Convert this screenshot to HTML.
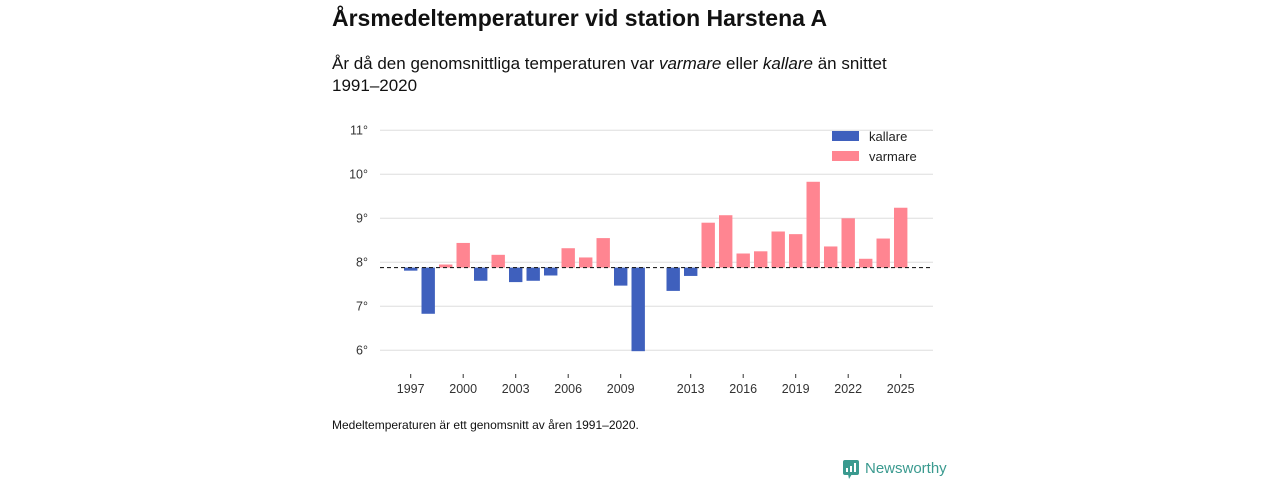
<!DOCTYPE html>
<html><head><meta charset="utf-8"><style>
body{margin:0;width:1280px;height:480px;background:#fff;font-family:"Liberation Sans","DejaVu Sans",sans-serif;overflow:hidden;position:relative;color:#111}
.t{position:absolute;left:332px;top:5px;font-size:23px;font-weight:bold}
.s{position:absolute;left:332px;top:53px;font-size:17px;line-height:22px;width:570px}
.f{position:absolute;left:332px;top:418px;font-size:12px}
svg{position:absolute;left:0;top:0}
</style></head><body>
<div class="t">Årsmedeltemperaturer vid station Harstena A</div>
<div class="s">År då den genomsnittliga temperaturen var <i>varmare</i> eller <i>kallare</i> än snittet 1991–2020</div>
<div class="f">Medeltemperaturen är ett genomsnitt av åren 1991–2020.</div>
<svg width="1280" height="480" id="c">
<g>
<rect x="843" y="460" width="16" height="15" rx="2" fill="#3a9a8f"/>
<polygon points="848,474 852,474 849,479" fill="#3a9a8f"/>
<rect x="846" y="468" width="2" height="4" fill="#fff"/><rect x="850" y="466" width="2" height="6" fill="#fff"/><rect x="854" y="463" width="2" height="9" fill="#fff"/>
<text x="865" y="473" font-size="15" fill="#3a9a8f" font-family="Liberation Sans, sans-serif">Newsworthy</text>
</g>
</svg>
<script>
const years=[1997,1998,1999,2000,2001,2002,2003,2004,2005,2006,2007,2008,2009,2010,2012,2013,2014,2015,2016,2017,2018,2019,2020,2021,2022,2023,2024,2025];
const temps=[7.81,6.83,7.95,8.44,7.58,8.17,7.55,7.58,7.70,8.32,8.11,8.55,7.47,5.98,7.35,7.69,8.90,9.07,8.20,8.25,8.70,8.64,9.83,8.36,9.00,8.08,8.54,9.24];
const baseline=7.88;
const yTicks=[6,7,8,9,10,11];
const xTicks=[1997,2000,2003,2006,2009,2013,2016,2019,2022,2025];
const NS='http://www.w3.org/2000/svg',svg=document.getElementById('c');
const X=y=>410.7+(y-1997)*17.5, Y=v=>350.3-(v-6)*44;
function mk(t,a){const e=document.createElementNS(NS,t);for(const k in a)e.setAttribute(k,a[k]);svg.appendChild(e);return e;}
yTicks.forEach(v=>{
 const l=mk('line',{x1:380,x2:933,y1:Y(v),y2:Y(v),stroke:'#ddd','stroke-width':1});
 
 
 const t=mk('text',{x:368,y:Y(v)+4,'text-anchor':'end','font-size':12.5,fill:'#333'});t.textContent=v+'°';
 
 
});
xTicks.forEach(y=>{
 const l=mk('line',{x1:X(y),x2:X(y),y1:374,y2:378,stroke:'#333'});
 
 
 const t=mk('text',{x:X(y),y:393,'text-anchor':'middle','font-size':12.5,fill:'#333'});t.textContent=y;
 
 
});
years.forEach((y,i)=>{
 const v=temps[i],w=v>=baseline;
 const r=mk('rect',{x:X(y)-6.7,width:13.4,y:Math.min(Y(v),Y(baseline)),height:Math.abs(Y(v)-Y(baseline)),fill:w?'#ff8591':'#3f60bd'});
 
 
});
const b=mk('line',{x1:380,x2:933,y1:Y(baseline),y2:Y(baseline),stroke:'#222','stroke-dasharray':'4,3','stroke-width':1.2});


[['kallare','#3f60bd',136],['varmare','#ff8591',156]].forEach(([n,c,yy])=>{
 const r=mk('rect',{x:832,y:yy-5,width:27,height:10,fill:c});
 
 
 const t=mk('text',{x:869,y:yy+5,'font-size':13,fill:'#222'});t.textContent=n;
 
 
});
</script>
</body></html>
